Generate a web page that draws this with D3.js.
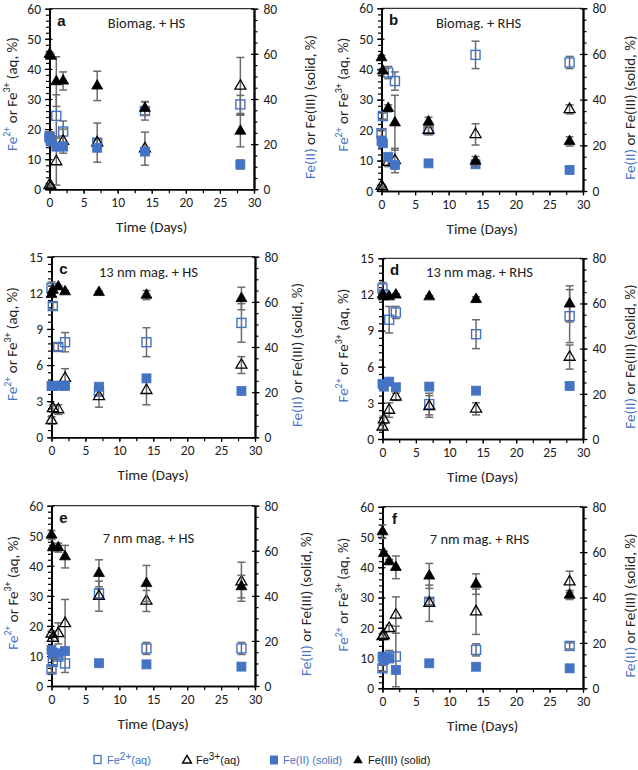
<!DOCTYPE html>
<html><head><meta charset="utf-8">
<script src="https://cdn.jsdelivr.net/npm/d3@7"></script>
<style>body{margin:0;background:#fff} svg{display:block}</style>
</head><body><svg id="c" width="638" height="770"></svg>
<script>
// ---------------- data ----------------
const days = [0, 0.2, 1, 2, 7, 14, 28];
const panelLetters = ["a","b","c","d","e","f"];
const panelTitles = ["Biomag. + HS","Biomag. + RHS","13 nm mag. + HS","13 nm mag. + RHS","7 nm mag. + HS","7 nm mag. + RHS"];
const leftMax = [60,60,15,15,60,60];
const leftStep = [10,10,3,3,10,10];
const rightTickValues = [0,20,40,60,80];
const xTickValues = [0,5,10,15,20,25,30];

// Fe2+ (aq), left axis
const fe2aq = [
  [17.5, 16, 24.4, 19.2, 15.5, 26, 28.2],
  [19, 24.6, 38.9, 36.1, 20, 44.7, 42.2],
  [12.4, 10.9, 7.5, 7.9, 3.8, 7.9, 9.5],
  [12.5, 12.0, 9.9, 10.5, 2.9, 8.7, 10.2],
  [5.5, 8.1, 9.8, 7.5, 30.8, 12.5, 12.5],
  [6.6, 9.9, 10.5, 10.5, 28.6, 12.7, 14]
];
const fe2aqErr = [
  [1.5, 1, 7, 3.5, 1, 3, 3],
  [1, 1, 2, 3, 1, 4.5, 2],
  [0.5, 0.3, 0.3, 0.8, 0.3, 1.2, 1.6],
  [0.5, 0.3, 1.1, 0.5, 0.9, 1.2, 2.2],
  [1, 1, 1, 3, 1.5, 2, 2],
  [1, 1, 2, 10, 1, 2, 1]
];
// Fe3+ (aq), left axis
const fe3aq = [
  [1.4, 1.0, 9.2, 16, 15.5, 13.5, 34.3],
  [1.6, 1.0, 9.5, 10, 20, 18.6, 26.8],
  [1.4, 2.4, 2.3, 4.9, 3.4, 3.9, 6.0],
  [1.0, 1.6, 2.4, 3.5, 2.7, 2.5, 6.8],
  [17.3, 15.9, 17.5, 20.8, 29.9, 28.3, 34.7],
  [17.1, 17.5, 19.8, 24.2, 28.1, 25.3, 35.2]
];
const fe3aqErr = [
  [0.5, 0.5, 7.8, 4, 6.5, 5.5, 9.5],
  [0.5, 0.5, 1.5, 4, 1.5, 3.5, 1.5],
  [0.3, 0.3, 0.4, 0.8, 0.9, 1.2, 0.7],
  [0.2, 0.3, 0.6, 0.3, 0.9, 0.5, 1.0],
  [1, 1, 3.5, 8, 5, 3.5, 6.5],
  [1, 1, 1, 6, 6, 7.5, 3.5]
];
// Fe(II) (solid), right axis
const fe2solid = [
  [22.9, 21.8, 18.9, 18.9, 18.4, 16.7, 11],
  [21.9, 20.9, 15, 11.4, 12.1, 11.7, 9.2],
  [22.7, 22.7, 22.9, 22.7, 22.4, 26.1, 20.5],
  [24.4, 23.2, 25.4, 22.9, 23.2, 21.4, 23.5],
  [16, 14.8, 14.5, 15.5, 10.1, 9.6, 8.6],
  [13.9, 12.5, 13.2, 8.1, 11, 9.5, 8.8]
];
const fe2solidErr = [
  [2, 1, 1, 1, 1, 1, 2],
  [1, 1, 1, 1, 0.5, 0.5, 0.5],
  [0.5, 0.5, 0.5, 0.5, 0.5, 1, 0.5],
  [0.5, 0.5, 0.5, 0.5, 0.5, 0.5, 0.5],
  [0.5, 0.5, 0.5, 0.5, 0.5, 0.5, 0.5],
  [0.5, 0.5, 0.5, 0.5, 0.5, 0.5, 0.5]
];
// Fe(III) (solid), right axis
const fe3solid = [
  [59.8, 59, 47.7, 48, 45.8, 35.9, 25.8],
  [58.4, 52.6, 36.2, 29.9, 30.3, 13.1, 21.7],
  [63.3, 65.2, 66.7, 64.5, 64.2, 63, 61.5],
  [63.8, 63, 63, 63.8, 63, 61.8, 59.8],
  [67, 61.4, 61.4, 57.4, 50, 45.5, 44.1],
  [69, 59.4, 55.8, 53.3, 49.5, 45.9, 41.1]
];
const fe3solidErr = [
  [1, 1, 11, 4, 6.5, 3, 7],
  [1, 1, 1.5, 12, 2, 2, 2],
  [0.5, 0.5, 0.5, 0.5, 0.5, 2, 5],
  [0.5, 0.5, 0.5, 0.5, 0.5, 1.2, 8],
  [2, 1, 2, 5, 6, 8, 5],
  [3, 1, 1, 5, 5.5, 4.5, 2]
];

// ---------------- layout ----------------
const panelLeft   = [49.5, 381.5, 51.5, 382.5, 51.5, 382.5];
const panelRight  = [254, 583, 255, 583, 255, 583];
const panelTop    = [8.7, 8.3, 256.7, 258.3, 505.7, 506.7];
const panelBottom = [189.3, 191, 437.3, 439, 686, 688.3];
const leftLabelX  = [11.5, 343, 12, 343, 12.5, 343];
const rightLabelX = [310, 629.5, 297, 629.5, 306, 629.5];
const leftLabelDy = [-5, -5, -3, -3, -3, -3];
const titleDy = [14, 14.5, 15, 14, 32, 32];
const BLUE = "#4472C4";
const ERR = "#6b6b6b";
const TXT = "#222";
const FONT = "Carlito, Lato, 'Open Sans', sans-serif";

const svg = d3.select("#c");
svg.append("rect").attr("width",638).attr("height",770).attr("fill","#fff");

function minorVals(max, step){ const a=[]; for(let v=0; v<=max+1e-9; v+=step) a.push(+v.toFixed(4)); return a; }

panelLetters.forEach((letter, i) => {
  const L = panelLeft[i], R = panelRight[i], T = panelTop[i], B = panelBottom[i];
  const x = d3.scaleLinear().domain([0,30]).range([L,R]);
  const yL = d3.scaleLinear().domain([0,leftMax[i]]).range([B,T]);
  const yR = d3.scaleLinear().domain([0,80]).range([B,T]);
  const g = svg.append("g");

  // top frame line
  g.append("line").attr("x1",L).attr("x2",R).attr("y1",T).attr("y2",T).attr("stroke","#000").attr("stroke-width",1);

  const leftMajor = d3.range(0, leftMax[i]+1e-9, leftStep[i]);
  const leftMinor = minorVals(leftMax[i], leftStep[i]/5);
  const rightMinor = minorVals(80, 5);
  const xMinor = minorVals(30, 2.5);

  function styleAxis(sel){
    sel.selectAll("path.domain").attr("stroke","#000").attr("stroke-width",1.6);
    sel.selectAll(".tick line").attr("stroke","#000").attr("stroke-width",1.2);
    sel.selectAll(".tick text").attr("font-family",FONT).attr("font-size",13.5).attr("fill",TXT);
  }
  // left axis
  g.append("g").attr("transform",`translate(${L},0)`).call(d3.axisLeft(yL).tickValues(leftMinor).tickSize(3.5).tickSizeOuter(0).tickFormat("")).call(styleAxis);
  g.append("g").attr("transform",`translate(${L},0)`).call(d3.axisLeft(yL).tickValues(leftMajor).tickSize(-3).tickSizeOuter(0).tickFormat("")).call(styleAxis);
  g.append("g").attr("transform",`translate(${L},0)`).call(d3.axisLeft(yL).tickValues(leftMajor).tickSize(4.5).tickPadding(4).tickSizeOuter(0).tickFormat(d3.format("d"))).call(styleAxis);
  // right axis
  g.append("g").attr("transform",`translate(${R},0)`).call(d3.axisRight(yR).tickValues(rightMinor).tickSize(3.5).tickSizeOuter(0).tickFormat("")).call(styleAxis);
  g.append("g").attr("transform",`translate(${R},0)`).call(d3.axisRight(yR).tickValues(rightTickValues).tickSize(-3).tickSizeOuter(0).tickFormat("")).call(styleAxis);
  g.append("g").attr("transform",`translate(${R},0)`).call(d3.axisRight(yR).tickValues(rightTickValues).tickSize(4.5).tickPadding(5).tickSizeOuter(0).tickFormat(d3.format("d"))).call(styleAxis);
  // x axis
  g.append("g").attr("transform",`translate(0,${B})`).call(d3.axisBottom(x).tickValues(xMinor).tickSize(4).tickSizeOuter(0).tickFormat("")).call(styleAxis);
  g.append("g").attr("transform",`translate(0,${B})`).call(d3.axisBottom(x).tickValues(xTickValues).tickSize(4.5).tickPadding(4).tickSizeOuter(0).tickFormat(d3.format("d"))).call(styleAxis);

  // axis titles
  const lt = g.append("text").attr("transform",`translate(${leftLabelX[i]},${(T+B)/2+leftLabelDy[i]}) rotate(-90)`)
    .attr("text-anchor","middle").attr("dominant-baseline","central").attr("font-family",FONT).attr("font-size",15);
  lt.append("tspan").attr("fill",BLUE).text("Fe");
  lt.append("tspan").attr("fill",BLUE).attr("font-size",10).attr("dy",-5.5).text("2+");
  lt.append("tspan").attr("fill",TXT).attr("dy",5.5).text(" or Fe");
  lt.append("tspan").attr("fill",TXT).attr("font-size",10).attr("dy",-5.5).text("3+");
  lt.append("tspan").attr("fill",TXT).attr("dy",5.5).text(" (aq, %)");

  const rt = g.append("text").attr("transform",`translate(${rightLabelX[i]},${(T+B)/2+8}) rotate(-90)`)
    .attr("text-anchor","middle").attr("dominant-baseline","central").attr("font-family",FONT).attr("font-size",15);
  rt.append("tspan").attr("fill",BLUE).text("Fe(II)");
  rt.append("tspan").attr("fill",TXT).text(" or Fe(III) (solid, %)");

  g.append("text").attr("x",(L+R)/2).attr("y",B+43).attr("text-anchor","middle")
    .attr("font-family",FONT).attr("font-size",15).attr("fill",TXT).text("Time (Days)");

  // letter and title
  g.append("text").attr("x",L+12).attr("y",T+17).attr("text-anchor","middle")
    .attr("font-family","Arial, 'Liberation Sans', sans-serif").attr("font-weight","bold").attr("font-size",15).attr("fill","#111").text(letter);
  g.append("text").attr("x",L+97).attr("y",T+titleDy[i]+5).attr("text-anchor","middle")
    .attr("font-family",FONT).attr("font-size",14.5).attr("fill",TXT).text(panelTitles[i]);

  // series
  const series = [
    {v: fe2aq[i], e: fe2aqErr[i], y: yL, type: "openSq"},
    {v: fe3aq[i], e: fe3aqErr[i], y: yL, type: "openTri"},
    {v: fe2solid[i], e: fe2solidErr[i], y: yR, type: "fillSq"},
    {v: fe3solid[i], e: fe3solidErr[i], y: yR, type: "fillTri"}
  ];
  series.forEach(s => {
    const pts = days.map((d,k) => ({d, v: s.v[k], e: s.e[k]}));
    const eg = g.append("g").attr("stroke",ERR).attr("stroke-width",1.5);
    pts.forEach(p => {
      const px = x(p.d), y1 = s.y(Math.max(0,p.v - p.e)), y2 = s.y(p.v + p.e);
      eg.append("line").attr("x1",px).attr("x2",px).attr("y1",y1).attr("y2",y2);
      eg.append("line").attr("x1",px-4).attr("x2",px+4).attr("y1",y1).attr("y2",y1);
      eg.append("line").attr("x1",px-4).attr("x2",px+4).attr("y1",y2).attr("y2",y2);
    });
    const mg = g.append("g");
    pts.forEach(p => {
      const px = x(p.d), py = s.y(p.v);
      if (s.type === "openSq") {
        mg.append("rect").attr("x",px-4.5).attr("y",py-4.5).attr("width",9).attr("height",9)
          .attr("fill","none").attr("stroke",BLUE).attr("stroke-width",1.4);
      } else if (s.type === "fillSq") {
        mg.append("rect").attr("x",px-4.5).attr("y",py-4.5).attr("width",9).attr("height",9)
          .attr("fill",BLUE).attr("stroke",BLUE).attr("stroke-width",0.8);
      } else {
        mg.append("path").attr("transform",`translate(${px},${py})`)
          .attr("d", d3.symbol(d3.symbolTriangle, 52)())
          .attr("fill", s.type === "fillTri" ? "#000" : "none")
          .attr("stroke","#000").attr("stroke-width", s.type === "fillTri" ? 0.8 : 1.3);
      }
    });
  });
});

// ---------------- legend ----------------
const legendY = 760;
const LF = "Arial, 'Liberation Sans', sans-serif";
const lg = svg.append("g").attr("font-family",LF).attr("font-size",11);
lg.append("rect").attr("x",94).attr("y",legendY-4.5).attr("width",7).attr("height",8).attr("fill","none").attr("stroke",BLUE).attr("stroke-width",1.3);
let t = lg.append("text").attr("x",107).attr("y",legendY+4).attr("fill",BLUE);
t.append("tspan").text("Fe"); t.append("tspan").attr("font-size",10).attr("dy",-4).text("2+"); t.append("tspan").attr("dy",4).text("(aq)");
lg.append("path").attr("transform",`translate(187,${legendY+0.5})`).attr("d",d3.symbol(d3.symbolTriangle,34)()).attr("fill","none").attr("stroke","#000").attr("stroke-width",1.4);
t = lg.append("text").attr("x",196).attr("y",legendY+4).attr("fill","#111");
t.append("tspan").text("Fe"); t.append("tspan").attr("font-size",10).attr("dy",-4).text("3+"); t.append("tspan").attr("dy",4).text("(aq)");
lg.append("rect").attr("x",270).attr("y",legendY-4.5).attr("width",8).attr("height",9).attr("fill",BLUE);
lg.append("text").attr("x",283).attr("y",legendY+4).attr("fill",BLUE).text("Fe(II) (solid)");
lg.append("path").attr("transform",`translate(358,${legendY+0.5})`).attr("d",d3.symbol(d3.symbolTriangle,40)()).attr("fill","#000");
lg.append("text").attr("x",368).attr("y",legendY+4).attr("fill","#111").text("Fe(III) (solid)");
</script>
</body></html>
